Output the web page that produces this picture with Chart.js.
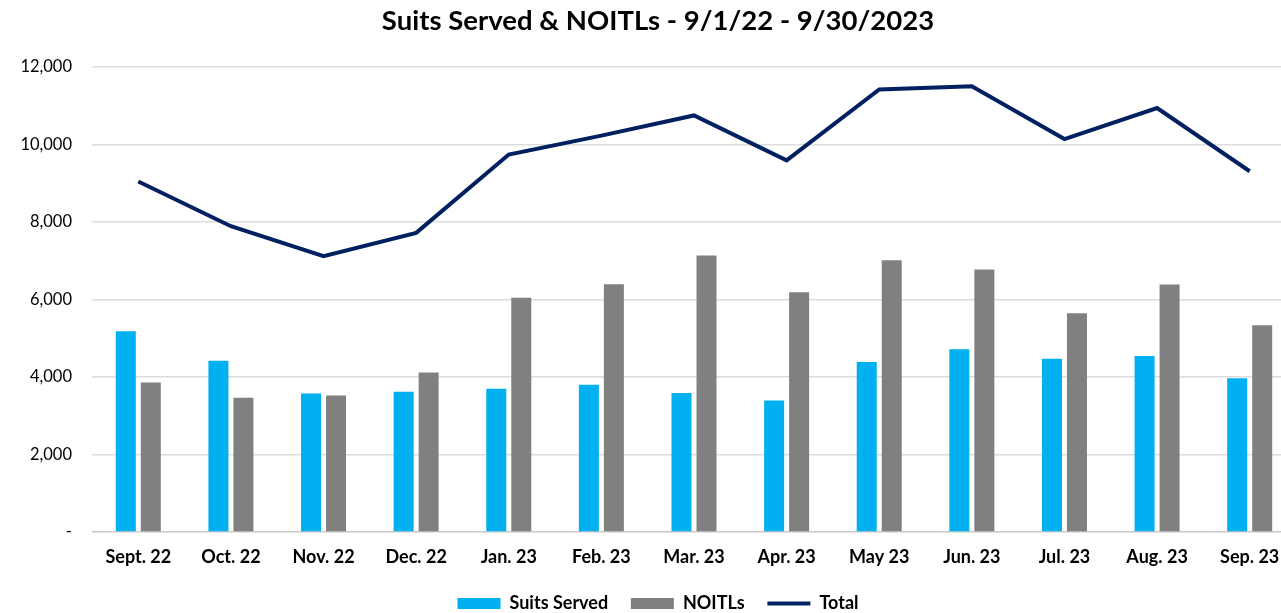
<!DOCTYPE html>
<html>
<head>
<meta charset="utf-8">
<script src="https://cdn.jsdelivr.net/npm/chart.js@4/dist/chart.umd.min.js"></script>
<style>
  html, body { margin: 0; padding: 0; background: #fff; overflow: hidden; }
  #wrap { width: 1316px; height: 613px; }
</style>
</head>
<body>
<div id="wrap"><canvas id="suitsChart" width="1316" height="613"></canvas></div>
<script>
const months = ["Sept. 22", "Oct. 22", "Nov. 22", "Dec. 22", "Jan. 23", "Feb. 23", "Mar. 23",
  "Apr. 23", "May 23", "Jun. 23", "Jul. 23", "Aug. 23", "Sep. 23"];
const suitsServed = [5180, 4420, 3575, 3620, 3695, 3800, 3590, 3395, 4390, 4715, 4470, 4545, 3970];
const noitls = [3860, 3465, 3520, 4115, 6045, 6395, 7135, 6190, 7015, 6775, 5645, 6385, 5335];
const total = [9045, 7890, 7120, 7720, 9740, 10230, 10750, 9590, 11420, 11500, 10140, 10940, 9310];
const yTicks = [0, 2000, 4000, 6000, 8000, 10000, 12000];

const FONT = "Lato, 'Open Sans', sans-serif";
const PAD_LEFT = 20;

const data = {
  labels: months,
  datasets: [
    {
      type: "bar",
      label: "Suits Served",
      data: suitsServed,
      backgroundColor: "#00b0f0",
      pointStyle: "rect",
      categoryPercentage: 0.54,
      barPercentage: 0.8,
      order: 1,
    },
    {
      type: "bar",
      label: "NOITLs",
      data: noitls,
      backgroundColor: "#808080",
      pointStyle: "rect",
      categoryPercentage: 0.54,
      barPercentage: 0.8,
      order: 1,
    },
    {
      type: "line",
      label: "Total",
      data: total,
      borderColor: "#002060",
      backgroundColor: "#002060",
      borderWidth: 4,
      pointRadius: 0,
      pointStyle: "line",
      tension: 0,
      order: 0, // keep the line above the bars
    },
  ],
};

// default legend items, with a little trailing room so items sit further apart
const legendItems = (chart) => {
  const items = Chart.defaults.plugins.legend.labels.generateLabels(chart);
  return items.map((item) =>
    item.datasetIndex === 2 ? item : { ...item, text: item.text + "\u2002\u2009" });
};

const config = {
  type: "bar",
  data: data,
  options: {
    responsive: false,
    animation: false,
    layout: { padding: { left: PAD_LEFT, right: 20, top: 0, bottom: -9.5 } },
    scales: {
      x: {
        grid: { display: false, drawTicks: false },
        border: { display: false },
        ticks: {
          padding: 14.7,
          color: "#000",
          font: { family: FONT, size: 18, weight: "bold" },
        },
      },
      y: {
        min: 0,
        max: 12000,
        afterBuildTicks: (s) => { s.ticks = yTicks.map((v) => ({ value: v })); },
        afterFit: (s) => { s.width = 92 - PAD_LEFT; },
        grid: {
          drawTicks: false,
          lineWidth: 1.5,
          color: (c) => (c.tick && c.tick.value === 0 ? "#c8c8c8" : "#dcdcdc"),
        },
        border: { display: false },
        ticks: {
          padding: 20,
          color: "#000",
          font: { family: FONT, size: 16.5 },
          callback: (v) => (v === 0 ? "-" : v.toLocaleString("en-US")),
        },
      },
    },
    plugins: {
      title: {
        display: true,
        text: "Suits Served & NOITLs - 9/1/22 - 9/30/2023",
        color: "#000",
        font: { family: FONT, size: 27.5, weight: "bold" },
        padding: { top: 4.5, bottom: 29.5 },
      },
      legend: {
        position: "bottom",
        labels: {
          usePointStyle: true,
          pointStyleWidth: 43,
          boxHeight: 11,
          padding: 11.5,
          color: "#000",
          font: { family: FONT, size: 18, weight: "bold" },
          sort: (a, b) => a.datasetIndex - b.datasetIndex,
          generateLabels: legendItems,
        },
      },
      tooltip: { enabled: false },
    },
  },
};

const ctx = document.getElementById("suitsChart").getContext("2d");
const suitsChart = new Chart(ctx, config);
</script>
</body>
</html>
